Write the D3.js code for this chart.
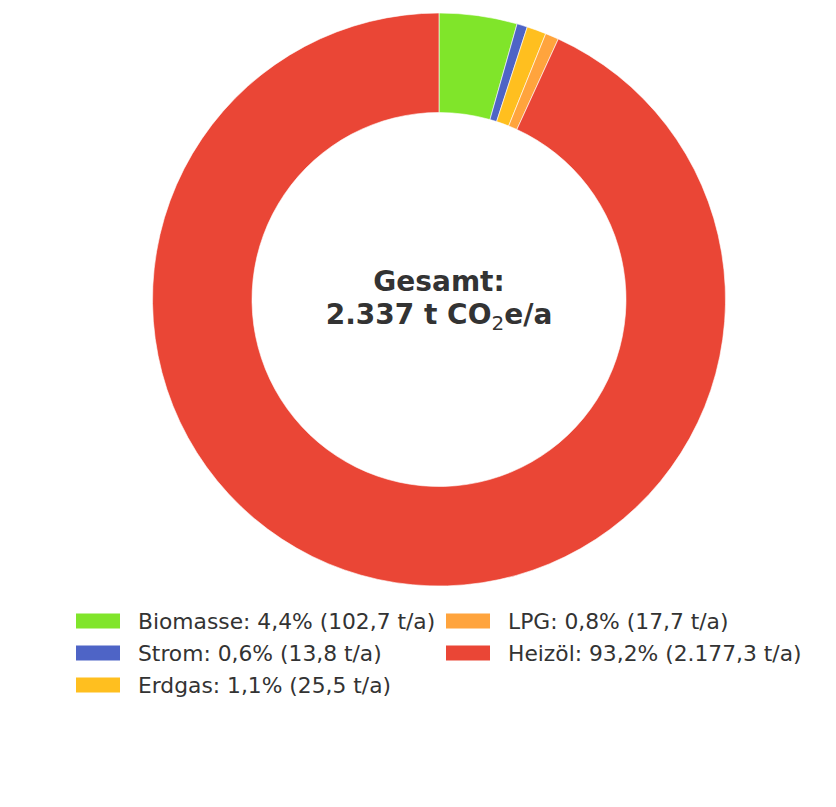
<!DOCTYPE html>
<html><head><meta charset="utf-8">
<script src="https://cdn.jsdelivr.net/npm/d3@7"></script>
<style>body{margin:0;background:#fff}svg{display:block}</style>
</head><body>
<svg id="c" width="836" height="807"></svg>
<script>
const categories = ["Biomasse", "Strom", "Erdgas", "LPG", "Heizöl"];
const values = [102.7, 13.8, 25.5, 17.7, 2177.3];
const percentLabels = ["4,4%", "0,6%", "1,1%", "0,8%", "93,2%"];
const valueLabels = ["102,7 t/a", "13,8 t/a", "25,5 t/a", "17,7 t/a", "2.177,3 t/a"];
const colors = ["#80e52a", "#4e64c6", "#ffbf1f", "#ffa43d", "#ea4636"];

const svg = d3.select("#c");
const cx = 439, cy = 299.5, R = 286.5, r = 187;
const pie = d3.pie().sort(null).value(d => d)(values);
const arc = d3.arc().innerRadius(r).outerRadius(R);
const g = svg.append("g").attr("transform", `translate(${cx},${cy})`);
g.selectAll("path").data(pie).join("path")
  .attr("d", arc).attr("fill", (d, i) => colors[i])
  .attr("stroke", "#fff").attr("stroke-width", 0.6);

const t = g.append("text").attr("text-anchor", "middle")
  .attr("font-family", "DejaVu Sans").attr("font-weight", "bold")
  .attr("font-size", 28).attr("fill", "#333");
t.append("tspan").attr("x", 0).attr("y", -9).text("Gesamt:");
const l2 = t.append("tspan").attr("x", 0).attr("y", 24);
l2.append("tspan").text("2.337 t CO");
l2.append("tspan").attr("font-size", 20).attr("font-weight", "normal").attr("dy", 6).text("2");
l2.append("tspan").attr("dy", -6).text("e/a");

const legend = svg.append("g").attr("font-family", "DejaVu Sans").attr("font-size", 21.8).attr("fill", "#333");
categories.forEach((c, i) => {
  const col = i < 3 ? 0 : 1, row = i < 3 ? i : i - 3;
  const x = col === 0 ? 76 : 446, y = 621 + row * 32;
  legend.append("rect").attr("x", x).attr("y", y - 7.5).attr("width", 44).attr("height", 15).attr("fill", colors[i]);
  legend.append("text").attr("x", x + 62).attr("y", y + 8).attr("fill", "#333")
    .text(`${c}: ${percentLabels[i]} (${valueLabels[i]})`);
});
</script>
</body></html>
